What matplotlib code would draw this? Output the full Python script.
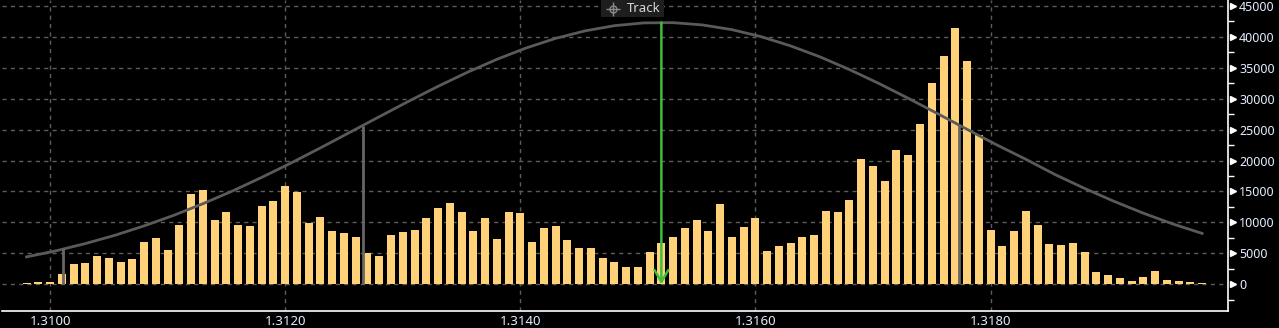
import numpy as np
import matplotlib
matplotlib.use("Agg")
import matplotlib.pyplot as plt
from matplotlib.patches import Rectangle
from matplotlib.ticker import MultipleLocator, FixedLocator
import matplotlib.transforms as mtransforms

# ---------------- data ----------------
price_start = 1.3098
price_step = 0.0001
volumes = [150, 300, 300, 1600, 3340, 3500, 4600, 4300, 3660, 4140,
           6900, 7480, 5570, 9550, 14640, 15280, 10340, 11620, 9550, 9390,
           12730, 13530, 15920, 14960, 9920, 10820, 8590, 8280, 7640, 5090,
           4620, 7960, 8430, 8750, 10660, 12250, 13210, 11620, 8590, 10660,
           7320, 11620, 11460, 6840, 9070, 9390, 7160, 5890, 5890, 4300,
           3660, 2860, 2860, 5250, 6680, 7640, 9070, 10340, 8590, 13050,
           7640, 9230, 10660, 5410, 6210, 6680, 7640, 7960, 11780, 11620,
           13690, 20210, 19100, 16710, 21680, 20890, 25950, 32580, 36840, 41420,
           36050, 24050, 8750, 6210, 8590, 11780, 9550, 6530, 6370, 6680,
           5250, 1910, 1430, 950, 480, 1110, 2070, 640, 480, 320,
           160]
prices = [round(price_start + i * price_step, 4) for i in range(len(volumes))]

curve_prices = [1.3098, 1.31005, 1.3103, 1.31055, 1.3108, 1.31105, 1.3113,
                1.31155, 1.3118, 1.31205, 1.3123, 1.31255, 1.3128, 1.31305,
                1.3133, 1.31355, 1.3138, 1.31405, 1.3143, 1.31455, 1.3148,
                1.31505, 1.3153, 1.31555, 1.3158, 1.31605, 1.3163, 1.31655,
                1.3168, 1.31705, 1.3173, 1.31755, 1.3178, 1.31805, 1.3183,
                1.31855, 1.3188, 1.31905, 1.3193, 1.31955, 1.3198]
curve_values = [4430, 5410, 6580, 7910, 9440, 11130, 13020,
                15060, 17270, 19600, 22040, 24550, 27070, 29570,
                31980, 34250, 36340, 38180, 39730, 40940, 41780,
                42230, 42270, 41900, 41140, 40000, 38510, 36740,
                34690, 32450, 30050, 27570, 25040, 22550, 20200,
                17720, 15490, 13410, 11490, 9750, 8220]

sigma_prices = [1.31011, 1.31266, 1.31773]
sigma_values = [5860, 25570, 25730]

track_price = 1.3152
track_value = 42300
track_label = "Track"

x_ticks = [1.3100, 1.3120, 1.3140, 1.3160, 1.3180]
x_tick_labels = ["1.3100", "1.3120", "1.3140", "1.3160", "1.3180"]
y_ticks = [0, 5000, 10000, 15000, 20000, 25000, 30000, 35000, 40000, 45000]

# ---------------- style ----------------
W, H = 1279, 328
bg = "#000000"
bar_color = "#FFD27A"
curve_color = "#5a5a5a"
sigma_color = "#666666"
green = "#3DBE3D"
grid_color = "#5c5c5c"
text_color = "#e4eeff"

fig = plt.figure(figsize=(W / 100, H / 100), dpi=100, facecolor=bg)
ax_left, ax_right = 2, 1228
ax_bottom_px, ax_top_px = 311, 0
ax = fig.add_axes([ax_left / W, (H - ax_bottom_px) / H,
                   (ax_right - ax_left) / W, (ax_bottom_px - ax_top_px) / H])
ax.set_facecolor(bg)

ax.bar(prices, volumes, width=0.000068, color=bar_color, zorder=3, linewidth=0)
ax.plot(curve_prices, curve_values, color=curve_color, lw=2, zorder=4,
        solid_joinstyle="round")
ax.vlines(sigma_prices, 0, sigma_values, color=sigma_color, lw=2, zorder=5)

# track line with arrow
ax.annotate("", xy=(track_price, 0), xytext=(track_price, track_value),
            arrowprops=dict(arrowstyle="->, head_length=0.85, head_width=0.5",
                            color=green, lw=1.8, mutation_scale=10,
                            shrinkA=0, shrinkB=0), zorder=6)

ax.set_xlim(1.309591, 1.32002)
ax.set_ylim(-4313, 45930)

# grid
ax.xaxis.set_major_locator(FixedLocator(x_ticks))
ax.set_xticklabels(x_tick_labels)
ax.yaxis.set_major_locator(FixedLocator(y_ticks))
ax.yaxis.set_minor_locator(MultipleLocator(2500))
ax.grid(True, which="major", color=grid_color, lw=1, linestyle=(0, (3, 3)), zorder=1)

ax.yaxis.tick_right()
ax.tick_params(axis="y", which="major", length=0, pad=8, labelcolor=text_color,
               labelsize=9)
ax.tick_params(axis="y", which="minor", length=4, width=1, color="white",
               direction="out", right=True, left=False)
ax.tick_params(axis="x", which="major", length=0, pad=3, labelcolor=text_color,
               labelsize=9.5)
for lab in ax.get_xticklabels() + ax.get_yticklabels():
    lab.set_family("Noto Sans")

for s in ["left", "top"]:
    ax.spines[s].set_visible(False)
ax.spines["right"].set_color("white")
ax.spines["right"].set_linewidth(1.2)
ax.spines["bottom"].set_color("white")
ax.spines["bottom"].set_linewidth(1.2)

# triangle tick markers on right axis
trans = mtransforms.blended_transform_factory(ax.transAxes, ax.transData)
ax.plot([1.0 + 5 / (ax_right - ax_left)] * len(y_ticks), y_ticks, linestyle="none",
        marker=">", markersize=5, color="white", transform=trans, clip_on=False,
        zorder=10)

# Track label box
fig.patches.append(Rectangle((601 / W, (H - 17) / H), 63 / W, 17 / H,
                             transform=fig.transFigure, facecolor="#1e1e1e",
                             edgecolor="none", zorder=20))
fig.text(627 / W, (H - 8.5) / H, track_label, color="#d8d8d8", fontsize=9.5,
         family="Noto Sans", va="center", ha="left", zorder=21)
# crosshair icon
cx, cy = 613 / W, (H - 8.5) / H
fig.add_artist(plt.Line2D([cx], [cy], marker="o", markersize=5,
                          markerfacecolor="none", markeredgecolor="#8a8a8a",
                          markeredgewidth=1, transform=fig.transFigure, zorder=22))
fig.add_artist(plt.Line2D([cx], [cy], marker="+", markersize=10,
                          markeredgecolor="#8a8a8a", markeredgewidth=1,
                          transform=fig.transFigure, zorder=22))

fig.savefig("out.png", dpi=100, facecolor=bg)
